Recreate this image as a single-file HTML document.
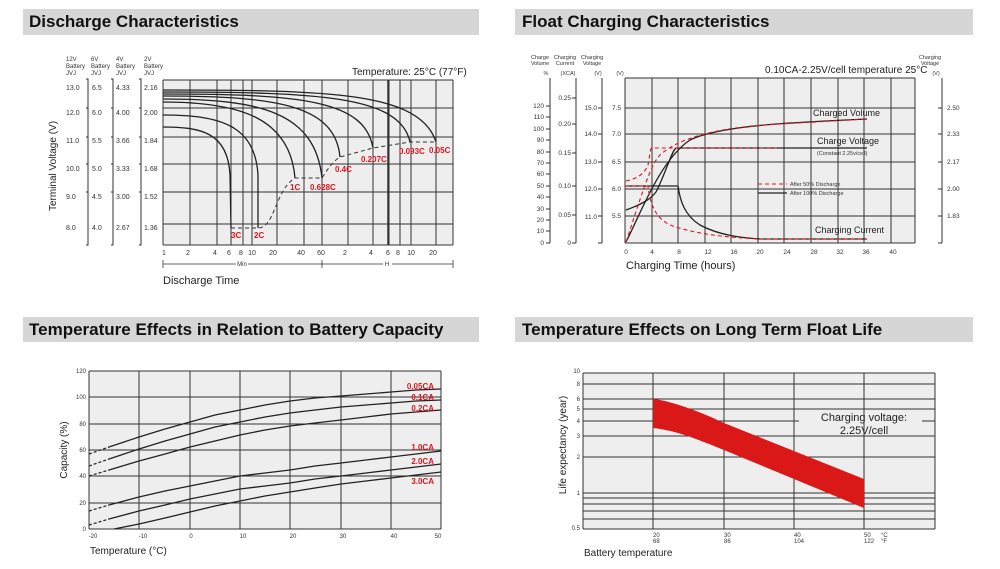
<!DOCTYPE html>
<html><head><meta charset="utf-8"><style>
html,body{margin:0;padding:0;background:#fff;}
svg{display:block;font-family:"Liberation Sans",Arial,sans-serif;}
.t{font-size:17px;font-weight:bold;fill:#111;}
.g{stroke:#333;stroke-width:1;fill:none;}
.c{stroke:#222;stroke-width:1.3;fill:none;stroke-linejoin:round;}
.s{font-size:6px;fill:#333;}
.s7{font-size:7px;fill:#333;}
.r{font-size:8px;font-weight:bold;fill:#e0141e;}
</style></head><body>
<svg width="1000" height="569" viewBox="0 0 1000 569">
<rect x="23" y="9" width="456" height="26" fill="#d6d6d6"/>
<text x="29" y="27" class="t">Discharge Characteristics</text>
<rect x="515" y="9" width="458" height="26" fill="#d6d6d6"/>
<text x="522" y="27" class="t">Float Charging Characteristics</text>
<rect x="23" y="317" width="456" height="25" fill="#d6d6d6"/>
<text x="29" y="335" class="t">Temperature Effects in Relation to Battery Capacity</text>
<rect x="515" y="317" width="458" height="25" fill="#d6d6d6"/>
<text x="522" y="335" class="t">Temperature Effects on Long Term Float Life</text>

<!-- ===== Chart 1 ===== -->
<rect x="163" y="80" width="290" height="165" fill="#eeeeee"/>
<g class="g">
<path d="M163,80H453M163,108H453M163,137H453M163,164H453M163,192H453M163,224H453M163,245H453"/>
<path d="M163,80V245M190,80V245M217,80V245M231,80V245M243,80V245M252,80V245M277,80V245M304,80V245M322,80V245M348,80V245M373,80V245M389,80V245M400,80V245M411,80V245M436,80V245M453,80V245"/>
<path d="M388,80V245" stroke-width="1.5"/>
</g>
<g class="c">
<path d="M163,90 C330,90 420,92 436,142"/>
<path d="M163,92 C320,92 400,96 410,142"/>
<path d="M163,94 C300,94 365,100 373,148"/>
<path d="M163,96 C280,96 335,106 340,157"/>
<path d="M163,99 C260,99 315,112 322,178"/>
<path d="M163,102 C240,102 290,118 295,178"/>
<path d="M163,115 C220,115 255,125 258,175 L258,228"/>
<path d="M163,127 C200,127 228,132 230,175 L231,228"/>
</g>
<path d="M231,228H258 C275,228 275,190 295,178 H322 C330,165 335,160 340,157 L373,148 L410,142 H436" stroke="#333" stroke-width="1" stroke-dasharray="4,3" fill="none"/>
<text class="r" x="231" y="238">3C</text><text class="r" x="254" y="238">2C</text>
<text class="r" x="290" y="190">1C</text><text class="r" x="310" y="190">0.628C</text>
<text class="r" x="335" y="172">0.4C</text><text class="r" x="361" y="162">0.207C</text>
<text class="r" x="399" y="154">0.093C</text><text class="r" x="429" y="153">0.05C</text>
<text x="352" y="75" font-size="10" fill="#222">Temperature: 25°C (77°F)</text>
<g class="s">
<text x="66" y="61">12V</text><text x="66" y="68">Battery</text><text x="66" y="75">JVJ</text>
<text x="91" y="61">6V</text><text x="91" y="68">Battery</text><text x="91" y="75">JVJ</text>
<text x="116" y="61">4V</text><text x="116" y="68">Battery</text><text x="116" y="75">JVJ</text>
<text x="144" y="61">2V</text><text x="144" y="68">Battery</text><text x="144" y="75">JVJ</text>
</g>
<g class="s7">
<text x="66" y="90">13.0</text><text x="66" y="115">12.0</text><text x="66" y="143">11.0</text><text x="66" y="171">10.0</text><text x="66" y="199">9.0</text><text x="66" y="230">8.0</text>
<text x="92" y="90">6.5</text><text x="92" y="115">6.0</text><text x="92" y="143">5.5</text><text x="92" y="171">5.0</text><text x="92" y="199">4.5</text><text x="92" y="230">4.0</text>
<text x="116" y="90">4.33</text><text x="116" y="115">4.00</text><text x="116" y="143">3.66</text><text x="116" y="171">3.33</text><text x="116" y="199">3.00</text><text x="116" y="230">2.67</text>
<text x="144" y="90">2.16</text><text x="144" y="115">2.00</text><text x="144" y="143">1.84</text><text x="144" y="171">1.68</text><text x="144" y="199">1.52</text><text x="144" y="230">1.36</text>
</g>
<g stroke="#333" stroke-width="1" fill="none">
<path d="M86,79H88V245H86M86,108H88M86,137H88M86,164H88M86,192H88"/>
<path d="M111,79H113V245H111M111,108H113M111,137H113M111,164H113M111,192H113"/>
<path d="M139,79H141V245H139M139,108H141M139,137H141M139,164H141M139,192H141"/>
</g>
<text transform="translate(56,166) rotate(-90)" text-anchor="middle" font-size="10" fill="#222">Terminal Voltage (V)</text>
<g class="s7" text-anchor="middle">
<text x="164" y="255">1</text><text x="188" y="255">2</text><text x="215" y="255">4</text><text x="229" y="255">6</text><text x="241" y="255">8</text><text x="252" y="255">10</text><text x="273" y="255">20</text><text x="301" y="255">40</text><text x="321" y="255">60</text><text x="345" y="255">2</text><text x="371" y="255">4</text><text x="388" y="255">6</text><text x="398" y="255">8</text><text x="411" y="255">10</text><text x="433" y="255">20</text>
</g>
<g stroke="#333" stroke-width="0.8">
<path d="M163,264H236M248,264H322M322,264H383M392,264H453M163,260V268M322,260V268M453,260V268"/>
</g>
<text x="242" y="266" class="s" text-anchor="middle">Min</text>
<text x="387" y="266" class="s" text-anchor="middle">H</text>
<text x="163" y="284" font-size="11" fill="#222">Discharge Time</text>

<!-- ===== Chart 2 ===== -->
<rect x="625" y="78" width="290" height="165" fill="#eeeeee"/>
<g class="g">
<path d="M625,78H915M625,108H915M625,134H915M625,162H915M625,189H915M625,216H915M625,243H915"/>
<path d="M625,78V243M652,78V243M678,78V243M705,78V243M731,78V243M758,78V243M784,78V243M811,78V243M838,78V243M864,78V243M891,78V243M915,78V243"/>
</g>
<g class="c" stroke-width="1.1">
<path d="M626,242 C640,215 660,160 690,140 C720,125 800,122 867,119"/>
<path d="M626,210 C640,205 650,200 656,192 C665,175 672,150 676,148 L867,148"/>
<path d="M625,186H678 C680,200 684,215 700,225 C720,236 745,238 760,239 L867,239"/>
<path d="M758,193H787"/>
</g>
<g fill="none" stroke="#e0141e" stroke-width="1.1" stroke-dasharray="4,3">
<path d="M626,242 C640,200 650,165 660,155 C680,137 720,127 780,124 L867,119"/>
<path d="M626,181 C640,178 645,172 648,165 C650,155 650,148 652,148 L777,148"/>
<path d="M625,186H648 C650,205 656,218 670,225 C700,236 740,238 760,239 L867,239"/>
<path d="M758,184H787"/>
</g>
<g font-size="9" fill="#222">
<text x="813" y="116">Charged Volume</text>
<text x="817" y="144">Charge Voltage</text>
<text x="815" y="233">Charging Current</text>
</g>
<text x="817" y="155" font-size="5.5" fill="#333">(Constant 2.25v/cell)</text>
<text x="790" y="186" font-size="5.5" fill="#333">After  50% Discharge</text>
<text x="790" y="195" font-size="5.5" fill="#333">After 100% Discharge</text>
<text x="765" y="73" font-size="10" fill="#222">0.10CA-2.25V/cell  temperature 25°C</text>
<g font-size="5.5" fill="#333" text-anchor="middle">
<text x="540" y="59">Charge</text><text x="540" y="65">Volume</text><text x="546" y="75">%</text>
<text x="565" y="59">Charging</text><text x="565" y="65">Current</text><text x="568" y="75">(XCA)</text>
<text x="592" y="59">Charging</text><text x="592" y="65">Voltage</text><text x="598" y="75">(V)</text>
<text x="620" y="75">(V)</text>
<text x="930" y="59">Charging</text><text x="930" y="65">Voltage</text><text x="936" y="75">(V)</text>
</g>
<g stroke="#333" stroke-width="1" fill="none">
<path d="M550,78V243M576,78V243M602,78V243M942,78V243"/>
<path d="M546,106H550M546,117H550M546,129H550M546,140H550M546,152H550M546,163H550M546,174H550M546,186H550M546,197H550M546,209H550M546,220H550M546,231H550M546,243H550"/>
<path d="M572,98H576M572,124H576M572,153H576M572,186H576M572,215H576M572,243H576"/>
<path d="M598,108H602M598,134H602M598,162H602M598,189H602M598,216H602M598,243H602"/>
<path d="M938,108H942M938,134H942M938,162H942M938,189H942M938,216H942M938,243H942"/>
</g>
<g font-size="6.5" fill="#333" text-anchor="end">
<text x="544" y="108">120</text><text x="544" y="119">110</text><text x="544" y="131">100</text><text x="544" y="142">90</text><text x="544" y="154">80</text><text x="544" y="165">70</text><text x="544" y="176">60</text><text x="544" y="188">50</text><text x="544" y="199">40</text><text x="544" y="211">30</text><text x="544" y="222">20</text><text x="544" y="233">10</text><text x="544" y="245">0</text>
<text x="571" y="100">0.25</text><text x="571" y="126">0.20</text><text x="571" y="155">0.15</text><text x="571" y="188">0.10</text><text x="571" y="217">0.05</text><text x="571" y="245">0</text>
<text x="597" y="110">15.0</text><text x="597" y="136">14.0</text><text x="597" y="164">13.0</text><text x="597" y="191">12.0</text><text x="597" y="219">11.0</text>
<text x="621" y="110">7.5</text><text x="621" y="136">7.0</text><text x="621" y="164">6.5</text><text x="621" y="191">6.0</text><text x="621" y="218">5.5</text>
</g>
<g font-size="6.5" fill="#333">
<text x="947" y="110">2.50</text><text x="947" y="136">2.33</text><text x="947" y="164">2.17</text><text x="947" y="191">2.00</text><text x="947" y="218">1.83</text>
</g>
<g font-size="6.5" fill="#333" text-anchor="middle">
<text x="626" y="254">0</text><text x="652" y="254">4</text><text x="679" y="254">8</text><text x="708" y="254">12</text><text x="734" y="254">16</text><text x="760" y="254">20</text><text x="787" y="254">24</text><text x="814" y="254">28</text><text x="840" y="254">32</text><text x="866" y="254">36</text><text x="893" y="254">40</text>
</g>
<text x="626" y="269" font-size="11" fill="#222">Charging Time (hours)</text>

<!-- ===== Chart 3 ===== -->
<rect x="89" y="371" width="352" height="158" fill="#eeeeee"/>
<g class="g">
<path d="M89,371H441M89,397H441M89,424H441M89,450H441M89,476H441M89,503H441M89,529H441"/>
<path d="M89,371V529M139,371V529M190,371V529M240,371V529M290,371V529M341,371V529M391,371V529M441,371V529"/>
</g>
<g class="c">
<polyline points="109,447 139,437 165,429 190,422 215,415 240,410 265,405 290,401 315,398 341,396 366,394 391,392 416,390 441,389"/>
<polyline points="109,459 139,449 165,441 190,434 215,427 240,422 265,417 290,413 315,410 341,407 366,405 391,403 416,401 441,400"/>
<polyline points="109,470 139,461 165,454 190,447 215,441 240,435 265,430 290,426 315,423 341,420 366,417 391,414 416,412 441,410"/>
<polyline points="109,505 139,497 165,491 190,486 215,481 240,476 265,473 290,470 315,466 341,463 366,460 391,457 416,454 441,451"/>
<polyline points="109,519 139,511 165,505 190,499 215,494 240,489 265,486 290,483 315,479 341,476 366,473 391,470 416,467 441,464"/>
<polyline points="114,529 139,524 165,518 190,512 215,506 240,501 265,496 290,492 315,488 341,484 366,481 391,478 416,475 441,472"/>
</g>
<g stroke="#222" stroke-width="1.2" stroke-dasharray="3,2" fill="none">
<path d="M89,454 L109,447M89,466 L109,459M89,476 L109,470M89,511 L109,505M89,525 L109,519"/>
</g>
<g class="r" text-anchor="end">
<text x="434" y="389">0.05CA</text><text x="434" y="400">0.1CA</text><text x="434" y="411">0.2CA</text>
<text x="434" y="450">1.0CA</text><text x="434" y="464">2.0CA</text><text x="434" y="484">3.0CA</text>
</g>
<g font-size="6" fill="#333" text-anchor="end">
<text x="86" y="373">120</text><text x="86" y="399">100</text><text x="86" y="426">80</text><text x="86" y="452">60</text><text x="86" y="478">40</text><text x="86" y="505">20</text><text x="86" y="531">0</text>
</g>
<g font-size="6" fill="#333" text-anchor="middle">
<text x="93" y="538">-20</text><text x="143" y="538">-10</text><text x="191" y="538">0</text><text x="243" y="538">10</text><text x="293" y="538">20</text><text x="343" y="538">30</text><text x="394" y="538">40</text><text x="438" y="538">50</text>
</g>
<text x="90" y="554" font-size="10" fill="#222">Temperature (°C)</text>
<text transform="translate(67,450) rotate(-90)" text-anchor="middle" font-size="10" fill="#222">Capacity (%)</text>

<!-- ===== Chart 4 ===== -->
<rect x="583" y="373" width="352" height="156" fill="#eeeeee"/>
<g class="g">
<path d="M583,373H935M583,384H935M583,399H935M583,409H935M583,436H935M583,457H935M583,493H935M583,498H935M583,504H935M583,511H935M583,519H935M583,529H935"/>
<path d="M583,421H799M922,421H935"/>
<path d="M583,373V529M653,373V529M724,373V529M794,373V529M864,373V529M935,373V529"/>
</g>
<path d="M653,399 C665,400 690,407 724,423 L864,479 L864,508 L724,450 C690,436 672,430 653,428 Z" fill="#db1818"/>
<text x="864" y="421" font-size="11" fill="#222" text-anchor="middle">Charging voltage:</text>
<text x="864" y="434" font-size="11" fill="#222" text-anchor="middle">2.25V/cell</text>
<g font-size="6" fill="#333" text-anchor="end">
<text x="580" y="373">10</text><text x="580" y="386">8</text><text x="580" y="401">6</text><text x="580" y="411">5</text><text x="580" y="423">4</text><text x="580" y="438">3</text><text x="580" y="459">2</text><text x="580" y="495">1</text><text x="580" y="530">0.5</text>
</g>
<g font-size="6" fill="#333">
<text x="653" y="537">20</text><text x="653" y="543">68</text>
<text x="724" y="537">30</text><text x="724" y="543">86</text>
<text x="794" y="537">40</text><text x="794" y="543">104</text>
<text x="864" y="537">50</text><text x="864" y="543">122</text>
<text x="881" y="537">°C</text><text x="881" y="543">°F</text>
</g>
<text x="584" y="556" font-size="10" fill="#222">Battery temperature</text>
<text transform="translate(566,445) rotate(-90)" text-anchor="middle" font-size="10" fill="#222">Life expectancy (year)</text>
</svg>
</body></html>
